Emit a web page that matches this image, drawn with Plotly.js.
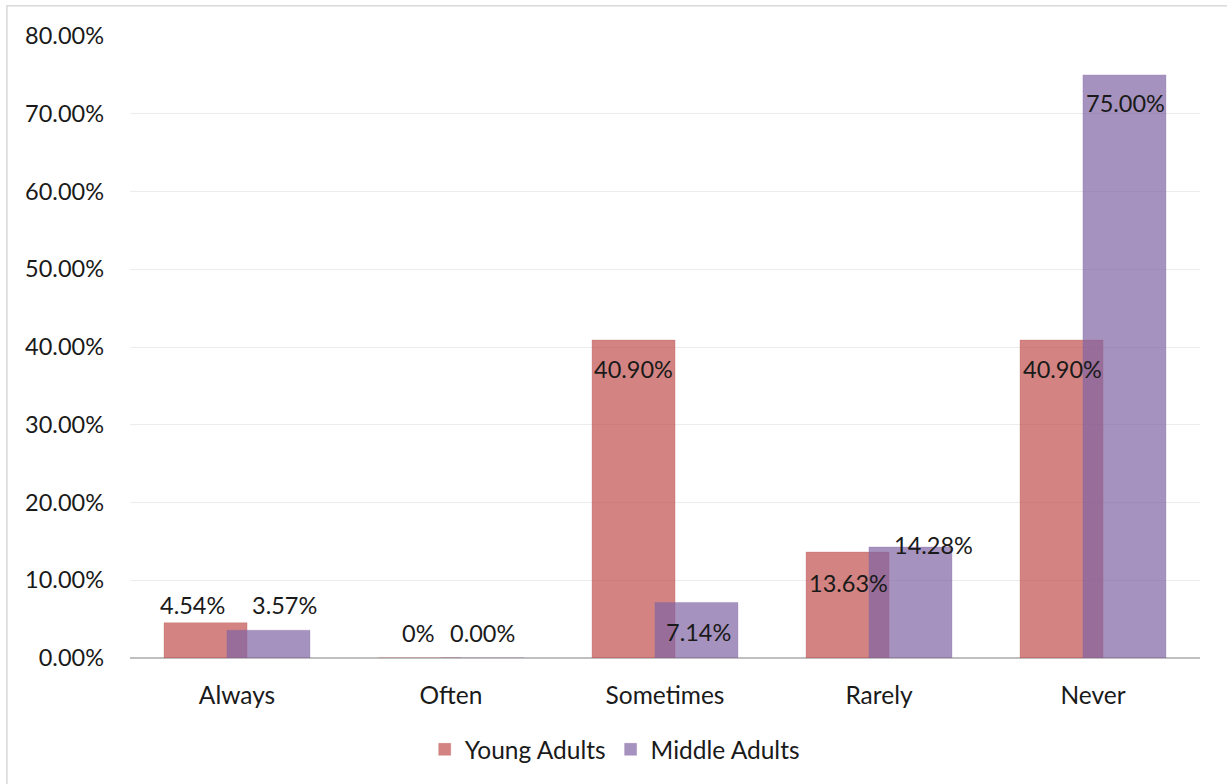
<!DOCTYPE html>
<html>
<head>
<meta charset="utf-8">
<script src="https://cdn.plot.ly/plotly-3.0.1.min.js"></script>
<style>
  html, body { margin: 0; padding: 0; background: #ffffff; }
  #chart { width: 1227px; height: 784px; }
</style>
</head>
<body>
<div id="chart"></div>
<script>
// Response categories and shares for each age group
const categories = ["Always", "Often", "Sometimes", "Rarely", "Never"];
const youngAdults = [0.0454, 0, 0.409, 0.1363, 0.409];
const middleAdults = [0.0357, 0, 0.0714, 0.1428, 0.75];
const youngLabels = ["4.54%", "0%", "40.90%", "13.63%", "40.90%"];
const middleLabels = ["3.57%", "0.00%", "7.14%", "14.28%", "75.00%"];
const seriesNames = ["Young Adults", "Middle Adults"];

// Label placement (pixel shifts relative to each category centre / bar top)
const youngShiftX = [-45, -33, -32, -31, -31];
const youngShiftY = [18, 25, -29, -31, -29];
const middleShiftX = [47, 31, 33, 54, 32];
const middleShiftY = [25, 25, -30, 2, -28];

const fontFamily = "Lato, 'Open Sans', sans-serif";
const textColor = "#1a1a1a";
const numberSize = 23.5;
const wordSize = 24.5;

const barWidth = 0.388;
const traces = [
  {
    type: "bar", name: seriesNames[0], x: categories, y: youngAdults,
    width: barWidth, offset: -0.341,
    marker: { color: "rgba(192,80,77,0.7)", line: { color: "rgba(192,80,77,0.25)", width: 1 } },
    hoverinfo: "skip"
  },
  {
    type: "bar", name: seriesNames[1], x: categories, y: middleAdults,
    width: barWidth, offset: -0.047,
    marker: { color: "rgba(128,100,162,0.7)", line: { color: "rgba(128,100,162,0.25)", width: 1 } },
    hoverinfo: "skip"
  }
];

const annotations = [];
categories.forEach((c, i) => {
  annotations.push({
    x: c, y: youngAdults[i], text: youngLabels[i], showarrow: false,
    xshift: youngShiftX[i], yshift: youngShiftY[i],
    font: { family: fontFamily, size: numberSize, color: textColor }
  });
  annotations.push({
    x: c, y: middleAdults[i], text: middleLabels[i], showarrow: false,
    xshift: middleShiftX[i], yshift: middleShiftY[i],
    font: { family: fontFamily, size: numberSize, color: textColor }
  });
});

const layout = {
  width: 1227, height: 784,
  margin: { l: 130, r: 27, t: 36, b: 126 },
  paper_bgcolor: "#ffffff", plot_bgcolor: "#ffffff",
  barmode: "overlay",
  showlegend: true,
  font: { family: fontFamily, size: wordSize, color: textColor },
  xaxis: {
    type: "category", showgrid: false, zeroline: false,
    showline: false, ticks: "", tickfont: { family: fontFamily, size: wordSize, color: textColor },
    ticklabelstandoff: 20
  },
  yaxis: {
    range: [0, 0.8], dtick: 0.1, tickformat: ".2%",
    showgrid: true, gridcolor: "#ececec", gridwidth: 1,
    zeroline: true, zerolinecolor: "#bfbfbf", zerolinewidth: 2.5,
    showline: false, ticks: "", ticklabelstandoff: 25,
    tickfont: { family: fontFamily, size: numberSize, color: textColor }
  },
  legend: {
    orientation: "h", x: 0.453, xanchor: "center", y: -0.147, yanchor: "middle",
    font: { family: fontFamily, size: wordSize, color: textColor },
    itemwidth: 30, traceorder: "normal"
  },
  annotations: annotations,
  shapes: [
    {
      type: "rect", xref: "paper", yref: "paper",
      x0: -0.1150, x1: 1.04, y0: -0.22, y1: 1.0485,
      line: { color: "#d9d9d9", width: 1.5 }, fillcolor: "rgba(0,0,0,0)", layer: "below"
    }
  ]
};

Plotly.newPlot("chart", traces, layout, { displayModeBar: false, staticPlot: true });
</script>
</body>
</html>
